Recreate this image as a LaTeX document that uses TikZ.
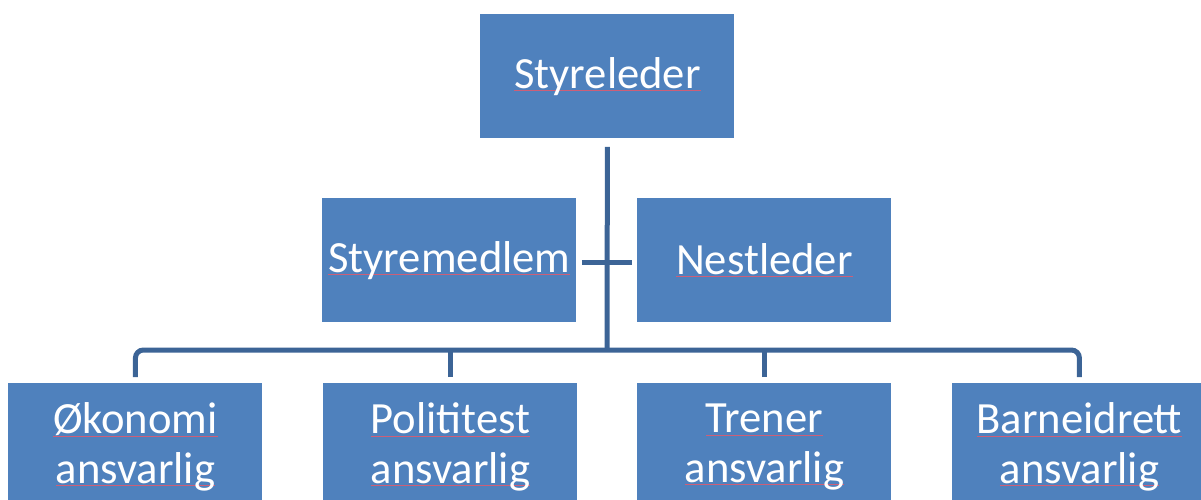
\documentclass[tikz,border=0pt]{standalone}
\usepackage{fontspec}
\setmainfont{Carlito}
\usetikzlibrary{calc}
\definecolor{boxblue}{RGB}{79,129,189}
\definecolor{linkblue}{RGB}{60,100,150}
\definecolor{splred}{RGB}{205,95,120}
\newcommand\splword[1]{\setbox0\hbox{#1}\rlap{\color{splred}\rule[-1.4pt]{\wd0}{0.45pt}}\box0}
\begin{document}
\begin{tikzpicture}[x=0.5pt,y=-0.5pt,
  box/.style={fill=boxblue, draw=none, minimum width=127pt, minimum height=62pt,
    inner sep=0pt, text=white, font=\fontsize{22.3}{24.75}\selectfont, align=center, anchor=north west},
  lbl/.style={inner sep=0pt, text=white, font=\fontsize{22.3}{24.75}\selectfont, align=center},
  link/.style={draw=linkblue, line width=2.5pt}]
\clip (0,0) rectangle (1201,499);
\node[box] (top) at (480,14) {\splword{Styreleder}};
\node[box] (sm) at (322,198) {\splword{Styremedlem}};
\node[box] (ns) at (637,198) {\splword{Nestleder}};
\node[box] (b1) at (8,383) {};
\node[box] (b2) at (323,383) {};
\node[box] (b3) at (637,383) {};
\node[box] (b4) at (952,383) {};
\node[lbl] (t1) at ($(b1.center)+(0,1.5)$) {\splword{Økonomi}\\\splword{ansvarlig}};
\node[lbl] (t2) at ($(b2.center)+(0,1.5)$) {\splword{Polititest}\\\splword{ansvarlig}};
\node[lbl] (t3) at ($(b3.center)+(0,1.5)$) {\splword{Trener}\\\splword{ansvarlig}};
\node[lbl] (t4) at ($(b4.center)+(0,1.5)$) {\splword{Barneidrett}\\\splword{ansvarlig}};
\coordinate (hub) at (607,350);
\draw[link] ($(top.south)+(0,8)$) -- (hub);
\draw[link] ($(sm.east)+(5,2)$) -- ($(ns.west)+(-5,2)$);
\draw[link, rounded corners=4pt] ($(b1.north)+(0,-6)$) |- (hub) -| ($(b4.north)+(0,-6)$);
\draw[link] ($(b2.north)+(0,-6)$) -- (b2.north |- hub);
\draw[link] ($(b3.north)+(0,-6)$) -- (b3.north |- hub);
\end{tikzpicture}
\end{document}
